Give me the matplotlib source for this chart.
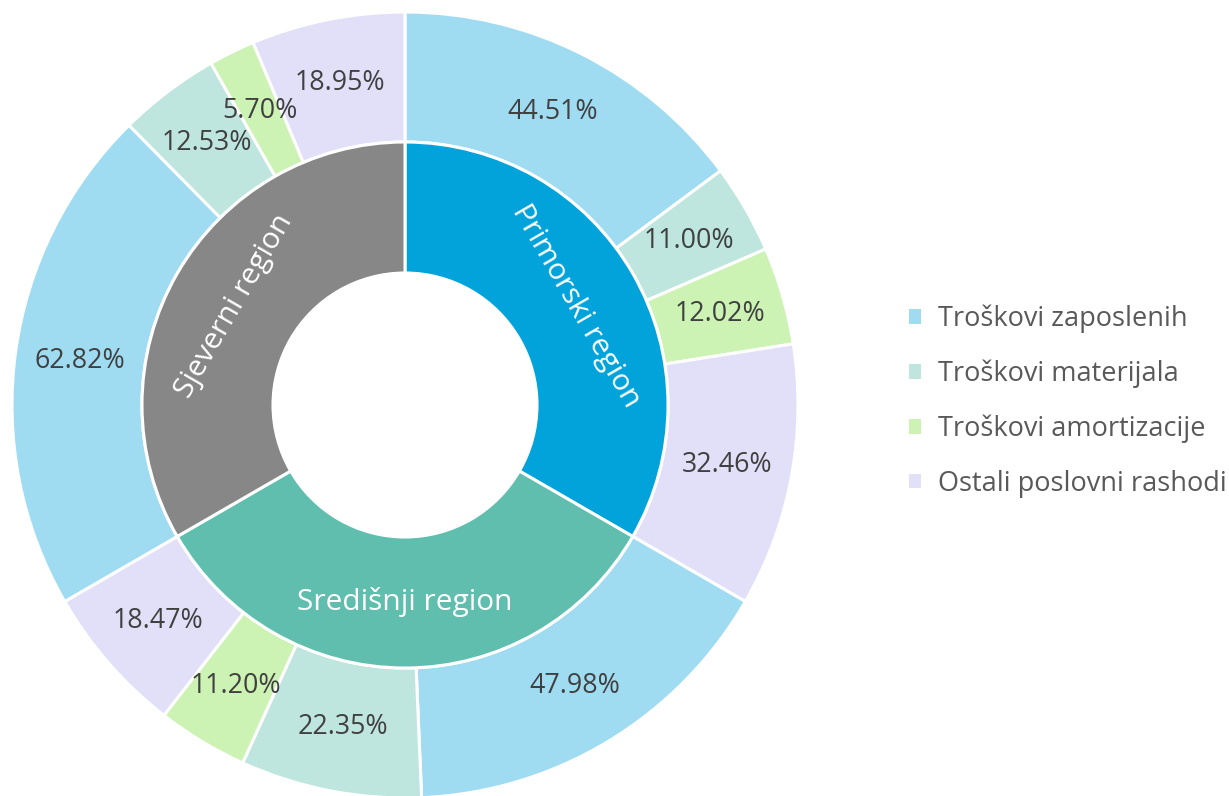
import numpy as np
import matplotlib.pyplot as plt
from matplotlib.patches import Patch

plt.rcParams["font.family"] = ["Open Sans", "DejaVu Sans"]

regions = ["Primorski region", "Središnji region", "Sjeverni region"]
region_share = [1, 1, 1]
categories = [
    "Troškovi zaposlenih",
    "Troškovi materijala",
    "Troškovi amortizacije",
    "Ostali poslovni rashodi",
]
primorski = [44.51, 11.00, 12.02, 32.46]
sredisnji = [47.98, 22.35, 11.20, 18.47]
sjeverni = [62.82, 12.53, 5.70, 18.95]

region_colors = ["#02A3DB", "#5FBEAD", "#878787"]
cat_colors = ["#9FDCF2", "#BEE6DE", "#CCF2B4", "#E2E0F8"]

fig = plt.figure(figsize=(12.29, 7.96), dpi=100)
R = 393
ax = fig.add_axes([(405 - R) / 1229, (391 - R) / 796, 2 * R / 1229, 2 * R / 796])
ax.set_aspect("equal")

outer_vals = []
outer_cols = []
outer_labels = []
total = sum(region_share)
for share, vals in zip(region_share, [primorski, sredisnji, sjeverni]):
    s = sum(vals)
    for v, c in zip(vals, cat_colors):
        outer_vals.append(share / total * v / s)
        outer_cols.append(c)
        outer_labels.append(f"{v:.2f}%")

r_mid = 263 / R
r_hole = 132 / R
edge = dict(edgecolor="white", linewidth=2.2)

outer, _ = ax.pie(outer_vals, colors=outer_cols, radius=1.0, startangle=90,
                  counterclock=False, wedgeprops=dict(width=1 - r_mid, **edge))
inner, _ = ax.pie(region_share, colors=region_colors, radius=r_mid, startangle=90,
                  counterclock=False, wedgeprops=dict(width=r_mid - r_hole, **edge))

# percentage labels in the middle of each outer wedge
r_lab = (1 + r_mid) / 2
for w, lab in zip(outer, outer_labels):
    a = np.deg2rad((w.theta1 + w.theta2) / 2)
    ax.text(r_lab * np.cos(a), r_lab * np.sin(a), lab, ha="center", va="center",
            fontsize=19.3, color="#404040")

# region names follow the ring
r_lab2 = (r_mid + r_hole) / 2
for w, lab in zip(inner, regions):
    ang = (w.theta1 + w.theta2) / 2
    a = np.deg2rad(ang)
    rot = (ang - 90) % 360
    if rot > 90 and rot <= 270:
        rot -= 180
    ax.text(r_lab2 * np.cos(a), r_lab2 * np.sin(a), lab, ha="center", va="center",
            fontsize=21.5, color="white", rotation=rot, rotation_mode="anchor")

ax.set_xlim(-1, 1)
ax.set_ylim(-1, 1)
ax.axis("off")

handles = [Patch(facecolor=c, edgecolor="none") for c in cat_colors]
fig.legend(handles, categories, loc="center left", bbox_to_anchor=(0.72, 0.496),
           frameon=False, fontsize=19.5, labelcolor="#595959", handlelength=0.45,
           handleheight=0.45, handletextpad=0.6, labelspacing=0.98)

fig.savefig("out.png", dpi=100)
